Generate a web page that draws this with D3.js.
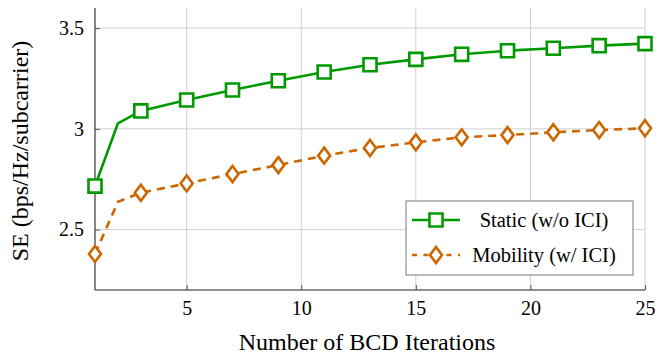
<!DOCTYPE html>
<html>
<head>
<meta charset="utf-8">
<script src="https://cdn.jsdelivr.net/npm/d3@7"></script>
<style>
  body { margin: 0; background: #fff; }
</style>
</head>
<body>
<div id="wrapper"></div>
<script>
// iterations (markers on odd ones)
const iterations = [1, 2, 3, 5, 7, 9, 11, 13, 15, 17, 19, 21, 23, 25];
const staticSE   = [2.716, 3.027, 3.089, 3.143, 3.193, 3.239, 3.282, 3.318, 3.345, 3.370, 3.388, 3.400, 3.413, 3.423];
const mobilitySE = [2.379, 2.638, 2.683, 2.729, 2.776, 2.820, 2.867, 2.905, 2.933, 2.958, 2.969, 2.983, 2.994, 3.003];
const xTicks = [5, 10, 15, 20, 25];
const yTicks = [2.5, 3, 3.5];
const seriesNames = ["Static (w/o ICI)", "Mobility (w/ ICI)"];

const FONT = "'Liberation Serif', 'Times New Roman', Times, 'DejaVu Serif', serif";

function draw() {
  const width = 659, height = 356;
  const margin = { top: 8, right: 14, bottom: 66, left: 95 };
  const innerW = width - margin.left - margin.right;
  const innerH = height - margin.top - margin.bottom;

  const svg = d3.select("#wrapper").append("svg")
    .attr("width", width)
    .attr("height", height)
    .style("font-family", FONT);
  const bounds = svg.append("g")
    .attr("transform", "translate(" + margin.left + "," + margin.top + ")");

  const x = d3.scaleLinear().domain([1, 25]).range([0, innerW]);
  const y = d3.scaleLinear().domain([2.2, 3.6]).range([innerH, 0]);

  // grid
  bounds.append("g")
    .selectAll("line")
    .data(xTicks)
    .enter().append("line")
    .attr("x1", d => x(d)).attr("x2", d => x(d))
    .attr("y1", 0).attr("y2", innerH)
    .attr("stroke", "#d0d0d0").attr("stroke-width", 1);
  bounds.append("g")
    .selectAll("line")
    .data(yTicks)
    .enter().append("line")
    .attr("x1", 0).attr("x2", innerW)
    .attr("y1", d => y(d)).attr("y2", d => y(d))
    .attr("stroke", "#d0d0d0").attr("stroke-width", 1);

  // axes
  const xAxis = d3.axisBottom(x).tickValues(xTicks).tickSize(-5).tickPadding(11).tickFormat(d3.format("d"));
  const yAxis = d3.axisLeft(y).tickValues(yTicks).tickSize(-5).tickPadding(11).tickFormat(d => String(d));
  const gx = bounds.append("g").attr("transform", "translate(0," + innerH + ")").call(xAxis);
  const gy = bounds.append("g").call(yAxis);
  [gx, gy].forEach(g => {
    g.attr("font-family", null).attr("font-size", null);
    g.select(".domain").attr("stroke", "#222").attr("stroke-width", 1.1);
    g.selectAll(".tick line").attr("stroke", "#555");
    g.selectAll(".tick text")
      .style("font-family", FONT)
      .style("font-size", "20px")
      .attr("fill", "#000");
  });
  gx.select(".domain").attr("d", "M0,0H" + innerW);
  gy.select(".domain").attr("d", "M0,0V" + innerH);

  // labels
  svg.append("text")
    .attr("x", margin.left + innerW / 2 - 3)
    .attr("y", 350)
    .attr("text-anchor", "middle")
    .style("font-family", FONT)
    .style("font-size", "24px")
    .text("Number of BCD Iterations");
  svg.append("text")
    .attr("transform", "translate(28," + (margin.top + innerH / 2 + 2) + ") rotate(-90)")
    .attr("text-anchor", "middle")
    .style("font-family", FONT)
    .style("font-size", "24px")
    .text("SE (bps/Hz/subcarrier)");

  const series = [
    { name: seriesNames[0], values: staticSE, color: "#009900", dash: null, mark: "square" },
    { name: seriesNames[1], values: mobilitySE, color: "#cc6600", dash: "8,6", mark: "diamond" }
  ];

  const line = d3.line().x(d => x(d[0])).y(d => y(d[1]));
  const square = d3.symbol().type(d3.symbolSquare).size(170);
  const diamondPath = "M0,-8L6,0L0,8L-6,0Z";

  series.forEach(s => {
    const pts = iterations.map((it, i) => [it, s.values[i]]);
    bounds.append("path")
      .attr("d", line(pts))
      .attr("fill", "none")
      .attr("stroke", s.color)
      .attr("stroke-width", 2.6)
      .attr("stroke-dasharray", s.dash);
    bounds.append("g")
      .selectAll("path")
      .data(pts.filter(p => p[0] % 2 === 1))
      .enter().append("path")
      .attr("transform", d => "translate(" + x(d[0]) + "," + y(d[1]) + ")")
      .attr("d", s.mark === "square" ? square() : diamondPath)
      .attr("fill", "#fff")
      .attr("stroke", s.color)
      .attr("stroke-width", 2.6);
  });

  // legend
  const legend = svg.append("g").attr("transform", "translate(406,201)");
  legend.append("rect")
    .attr("width", 227).attr("height", 74)
    .attr("fill", "#fff")
    .attr("stroke", "#777").attr("stroke-width", 1);
  series.forEach((s, i) => {
    const cy = 19 + i * 35;
    legend.append("line")
      .attr("x1", 6).attr("x2", 54)
      .attr("y1", cy).attr("y2", cy)
      .attr("stroke", s.color).attr("stroke-width", 2.6)
      .attr("stroke-dasharray", s.dash ? "5,6.5" : null);
    legend.append("path")
      .attr("transform", "translate(30," + cy + ")")
      .attr("d", s.mark === "square" ? square() : diamondPath)
      .attr("fill", "#fff")
      .attr("stroke", s.color).attr("stroke-width", 2.6);
    legend.append("text")
      .attr("x", 138).attr("y", cy + 7)
      .attr("text-anchor", "middle")
      .style("font-family", FONT)
      .style("font-size", "20.5px")
      .text(s.name);
  });
}
draw();
</script>
</body>
</html>
